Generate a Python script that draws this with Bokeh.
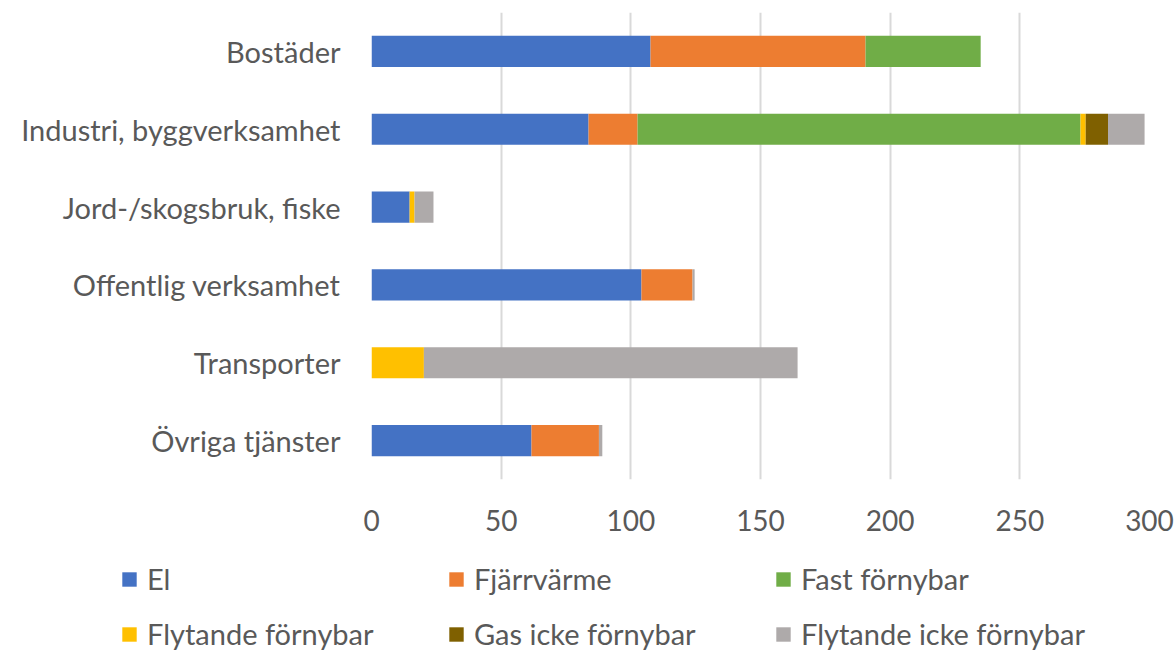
from bokeh.plotting import figure
from bokeh.models import ColumnDataSource, Legend, LegendItem, FactorRange, FixedTicker, Range1d
from bokeh.embed import file_html
from bokeh.resources import INLINE

categories = ["Bostäder", "Industri, byggverksamhet", "Jord-/skogsbruk, fiske",
              "Offentlig verksamhet", "Transporter", "Övriga tjänster"]
series = ["El", "Fjärrvärme", "Fast förnybar", "Flytande förnybar",
          "Gas icke förnybar", "Flytande icke förnybar"]
el = [107.6, 83.7, 14.7, 104.1, 0.0, 61.7]
fjarrvarme = [82.9, 18.9, 0.0, 19.7, 0.0, 26.0]
fast_fornybar = [44.4, 170.8, 0.0, 0.0, 0.0, 0.0]
flytande_fornybar = [0.0, 2.0, 1.9, 0.0, 20.2, 0.0]
gas_icke = [0.0, 8.6, 0.0, 0.0, 0.0, 0.0]
flytande_icke = [0.0, 14.1, 7.3, 0.8, 144.1, 1.3]
x_ticks = [0, 50, 100, 150, 200, 250, 300]
colors = ["#4472C4", "#ED7D31", "#70AD47", "#FFC000", "#7F6000", "#AEAAAA"]

keys = ["s0", "s1", "s2", "s3", "s4", "s5"]
source = ColumnDataSource(data=dict(cat=categories, s0=el, s1=fjarrvarme, s2=fast_fornybar,
                                    s3=flytande_fornybar, s4=gas_icke, s5=flytande_icke))

FONT = "Lato"
TXT = "#595959"

p = figure(width=1176, height=545, output_backend="svg", toolbar_location=None,
           y_range=FactorRange(factors=list(reversed(categories))),
           x_range=(0, 300),
           min_border_left=371, min_border_right=27, min_border_top=12, min_border_bottom=66)
p.outline_line_color = None
p.background_fill_color = "white"
p.border_fill_color = "white"

p.hbar_stack(keys, y="cat", height=0.4, color=colors, source=source, line_width=0)

p.xaxis.ticker = FixedTicker(ticks=x_ticks)
p.xaxis.axis_line_color = None
p.xaxis.major_tick_line_color = None
p.xaxis.minor_tick_line_color = None
p.xaxis.major_label_text_font = FONT
p.xaxis.major_label_text_font_size = "28px"
p.xaxis.major_label_text_color = TXT
p.xaxis.major_label_standoff = 24

p.yaxis.axis_line_color = None
p.yaxis.major_tick_line_color = None
p.yaxis.major_label_text_font = FONT
p.yaxis.major_label_text_font_size = "29px"
p.yaxis.major_label_text_color = TXT
p.yaxis.major_label_standoff = 25

p.ygrid.grid_line_color = None
p.xgrid.grid_line_color = "#D9D9D9"
p.xgrid.grid_line_width = 2

# legend panel (separate root, not frame-aligned): proxy bars out of view
lf = figure(width=1176, height=106, output_backend="svg", toolbar_location=None,
            y_range=FactorRange(factors=list(reversed(categories))),
            x_range=Range1d(-1000, -999),
            x_axis_location=None, y_axis_location=None,
            min_border_left=0, min_border_right=0, min_border_top=0, min_border_bottom=0)
lf.grid.visible = False
lf.outline_line_color = None
lf.border_fill_color = "white"
proxies = lf.hbar_stack(keys, y="cat", height=0.4, color=colors, source=source, line_width=0)

items = [LegendItem(label=s, renderers=[r]) for s, r in zip(series, proxies)]
legend = Legend(items=items, ncols=3, orientation="horizontal")
legend.label_text_font = FONT
legend.label_text_font_size = "29px"
legend.label_text_color = TXT
legend.glyph_width = 18
legend.glyph_height = 18
legend.label_standoff = 9
legend.label_width = 280
legend.label_height = 30
legend.spacing = 20
legend.border_line_color = None
legend.background_fill_alpha = 0
legend.padding = 0
legend.margin = 0
legend.location = (120, 0)
lf.add_layout(legend, "center")

open("out.html", "w").write(file_html([p, lf], INLINE))
